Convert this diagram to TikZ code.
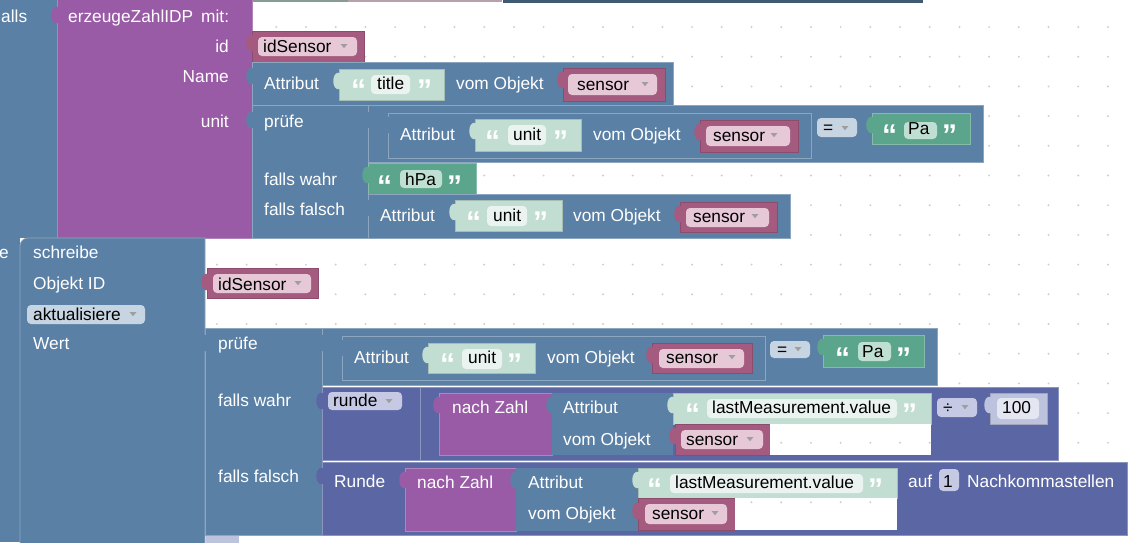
\documentclass[tikz,border=0pt]{standalone}
\usepackage{fontspec}
\setmainfont{Liberation Sans}
\definecolor{logic}{HTML}{5B80A5}
\definecolor{proc}{HTML}{995BA5}
\definecolor{vars}{HTML}{A55B80}
\definecolor{txtg}{HTML}{5BA58C}
\definecolor{txts}{HTML}{C2DED2}
\definecolor{mathc}{HTML}{5B67A5}
\definecolor{nums}{HTML}{BDC2DD}
\definecolor{varpill}{HTML}{E6C8D7}
\definecolor{ddpill}{HTML}{C7D4E2}
\definecolor{mpill}{HTML}{C6C9E4}
\definecolor{spill}{HTML}{EAF3EF}
\definecolor{gpill}{HTML}{BFDFD2}
\definecolor{npill}{HTML}{E4E6F2}
\definecolor{dotc}{HTML}{CFCFCF}
\tikzset{
  lblk/.style={fill=logic, draw=logic!70!white, line width=0.7pt},
  pblk/.style={fill=proc, draw=proc!75!white, line width=0.7pt},
  vblk/.style={fill=vars, draw=vars!85!black, line width=0.7pt},
  gblk/.style={fill=txtg, draw=txtg!75!white, line width=0.7pt},
  sblk/.style={fill=txts, draw=txts!85!black, line width=0.5pt},
  mblk/.style={fill=mathc, draw=mathc!70!white, line width=0.7pt},
  nblk/.style={fill=nums, draw=nums!85!black, line width=0.5pt},
  pill/.style={rounded corners=4pt},
  lab/.style={anchor=base west, inner sep=0pt, text=white},
  rlab/.style={anchor=base east, inner sep=0pt, text=white},
  fld/.style={anchor=base west, inner sep=0pt, text=black},
  quo/.style={anchor=base west, inner sep=0pt, text=white, yshift=-11pt,
              font=\fontsize{30}{30}\selectfont\bfseries},
}
% tab of a value block: x of left edge, y of top, colour
\newcommand{\puzzletab}[3]{\fill[#3] (#1+1,#2+4) .. controls (#1-8,#2+1) and (#1-8,#2+23) .. (#1+1,#2+20) -- cycle;}
\newcommand{\droparrow}[2]{\fill[black!38] (#1-3.5,#2-2) -- (#1+3.5,#2-2) -- (#1,#2+2.2) -- cycle;}
\newcommand{\dotgrid}{\foreach \i in {0,...,38} \foreach \j in {0,...,17}
    \fill[dotc] (9+29.7*\i,27+29.7*\j) circle (1.1pt);}

\begin{document}
\begin{tikzpicture}[x=1pt, y=-1pt, font=\fontsize{17.3}{21}\selectfont]
  \useasboundingbox (0,0) rectangle (1134,542);
  \clip (0,0) rectangle (1134,542);
  \fill[white] (0,0) rectangle (1134,542);
  \dotgrid

  % edges of the blocks above
  \fill[txts!70!black] (252,0) rectangle (348,2);
  \fill[varpill!80!black] (348,0) rectangle (502,2);
  \fill[logic!70!black] (503,0) rectangle (923,2.5);

  % falls / mache
  \fill[logic] (0,0) rectangle (57,238);
  \fill[logic] (0,238) rectangle (20,542);
  \node[lab] (falls) at (1,22) {alls};
  \node[rlab] (mache) at (9,258) {e};

  % erzeugeZahlIDP
  \draw[pblk] (57,-2) rectangle (252,238);
  \puzzletab{57}{3}{proc}
  \node[lab] (callname) at (68,22) {erzeugeZahlIDP};
  \node[lab] (callmit) at (201,22) {mit:};
  \node[rlab] (argid) at (229,52) {id};
  \node[rlab] (argname) at (229,82) {Name};
  \node[rlab] (argunit) at (229,127) {unit};

  \draw[vblk] (252,31) rectangle (364,62);
  \puzzletab{252}{31}{vars}
  \fill[varpill, pill] (258,37) rectangle (357,56);
  \node[fld] (idvar) at (263,52) {idSensor};
  \droparrow{344}{46}

  % Name
  \draw[lblk] (252,62) rectangle (673,105);
  \puzzletab{252}{64}{logic}
  \node[lab] (nattr) at (264,89) {Attribut};
  \draw[sblk] (339,69) rectangle (444,100);
  \puzzletab{339}{69}{txts}
  \node[quo] (nq1) at (351,89) {“};
  \fill[spill, pill] (371,75) rectangle (410,94);
  \node[fld] (ntitle) at (377,89) {title};
  \node[quo] (nq2) at (417,89) {”};
  \node[lab] (nobj) at (456,89) {vom Objekt};
  \draw[vblk] (563,68) rectangle (665,101);
  \puzzletab{563}{68}{vars}
  \fill[varpill, pill] (568,74) rectangle (657,95);
  \node[fld] (nsensor) at (577,90) {sensor};
  \droparrow{645}{84}

  % unit: pruefe
  \draw[lblk] (252,105) rectangle (368,238);
  \puzzletab{252}{108}{logic}
  \node[lab] (upruefe) at (264,127) {prüfe};
  \node[lab] (uwahr) at (264,185) {falls wahr};
  \node[lab] (ufalsch) at (264,215) {falls falsch};

  \draw[lblk] (368,105) rectangle (983,162);
  \puzzletab{368}{108}{logic}
  \draw[lblk] (388,113) rectangle (811,158);
  \puzzletab{388}{113}{logic}
  \node[lab] (cattr) at (400,140) {Attribut};
  \draw[sblk] (475,119) rectangle (581,151);
  \puzzletab{475}{119}{txts}
  \node[quo] (cq1) at (485,140) {“};
  \fill[spill, pill] (508,125) rectangle (546,145);
  \node[fld] (cunit) at (513,140) {unit};
  \node[quo] (cq2) at (553,140) {”};
  \node[lab] (cobj) at (593,140) {vom Objekt};
  \draw[vblk] (700,120) rectangle (798,152);
  \puzzletab{700}{120}{vars}
  \fill[varpill, pill] (706,126) rectangle (790,146);
  \node[fld] (csensor) at (713,141) {sensor};
  \droparrow{774}{135}
  \fill[ddpill, pill] (817,118) rectangle (857,137);
  \node[fld] (ceq) at (823,133) {=};
  \droparrow{845}{128}
  \draw[gblk] (872,113) rectangle (970,144);
  \puzzletab{872}{113}{txtg}
  \node[quo] (pq1) at (882,134) {“};
  \fill[gpill, pill] (904,122) rectangle (937,139);
  \node[fld] (cpa) at (908,134) {Pa};
  \node[quo] (pq2) at (942,134) {”};

  \draw[gblk] (368,163) rectangle (476,194);
  \puzzletab{368}{163}{txtg}
  \node[quo] (hq1) at (377,185) {“};
  \fill[gpill, pill] (400,170) rectangle (442,188);
  \node[fld] (hpa) at (405,185) {hPa};
  \node[quo] (hq2) at (447,185) {”};

  \draw[lblk] (368,194) rectangle (790,238);
  \puzzletab{368}{196}{logic}
  \node[lab] (fattr) at (380,221) {Attribut};
  \draw[sblk] (455,200) rectangle (562,231);
  \puzzletab{455}{200}{txts}
  \node[quo] (fq1) at (466,221) {“};
  \fill[spill, pill] (487,206) rectangle (527,226);
  \node[fld] (funit) at (493,221) {unit};
  \node[quo] (fq2) at (533,221) {”};
  \node[lab] (fobj) at (573,221) {vom Objekt};
  \draw[vblk] (680,202) rectangle (777,232);
  \puzzletab{680}{202}{vars}
  \fill[varpill, pill] (686,208) rectangle (769,227);
  \node[fld] (fsensor) at (693,222) {sensor};
  \droparrow{755}{216}

  % schreibe
  \path[lblk] (20,545) -- (20,246) arc[start angle=180, end angle=90, radius=8pt]
    -- (205,238) -- (205,545) -- cycle;
  \node[lab] (write) at (33,258) {schreibe};
  \node[lab] (objid) at (33,289) {Objekt ID};
  \fill[ddpill, pill] (27,305) rectangle (145,324);
  \node[fld] (update) at (33,320) {aktualisiere};
  \droparrow{133}{314}
  \node[lab] (value) at (33,349) {Wert};

  \draw[vblk] (207,268) rectangle (318,298);
  \puzzletab{207}{270}{vars}
  \fill[varpill, pill] (213,274) rectangle (311,293);
  \node[fld] (idvar2) at (218,290) {idSensor};
  \droparrow{298}{283}

  % Wert: pruefe
  \draw[lblk] (205,328) rectangle (322,535);
  \puzzletab{205}{331}{logic}
  \node[lab] (wpruefe) at (218,349) {prüfe};
  \node[lab] (wwahr) at (218,406) {falls wahr};
  \node[lab] (wfalsch) at (218,482) {falls falsch};

  \draw[lblk] (322,328) rectangle (937,385);
  \puzzletab{322}{331}{logic}
  \draw[lblk] (342,336) rectangle (765,380);
  \puzzletab{342}{336}{logic}
  \node[lab] (dattr) at (354,363) {Attribut};
  \draw[sblk] (428,343) rectangle (535,373);
  \puzzletab{428}{343}{txts}
  \node[quo] (dq1) at (440,363) {“};
  \fill[spill, pill] (462,349) rectangle (502,369);
  \node[fld] (dunit) at (468,363) {unit};
  \node[quo] (dq2) at (507,363) {”};
  \node[lab] (dobj) at (547,363) {vom Objekt};
  \draw[vblk] (652,343) rectangle (752,373);
  \puzzletab{652}{343}{vars}
  \fill[varpill, pill] (659,349) rectangle (744,368);
  \node[fld] (dsensor) at (666,363) {sensor};
  \droparrow{732}{357}
  \fill[ddpill, pill] (770,341) rectangle (810,358);
  \node[fld] (deq) at (777,355) {=};
  \droparrow{798}{349}
  \draw[gblk] (823,335) rectangle (924,367);
  \puzzletab{823}{335}{txtg}
  \node[quo] (eq1) at (835,357) {“};
  \fill[gpill, pill] (858,342) rectangle (891,361);
  \node[fld] (dpa) at (862,357) {Pa};
  \node[quo] (eq2) at (896,357) {”};

  % falls wahr: runde
  \draw[mblk] (322,387) rectangle (1058,460);
  \puzzletab{322}{389}{mathc}
  \fill[mpill, pill] (328,392) rectangle (402,410);
  \node[fld] (round1) at (333,406) {runde};
  \droparrow{389}{401}
  \draw[mblk] (420,387) rectangle (1058,460);
  \draw[pblk] (439,393) rectangle (552,455);
  \puzzletab{439}{393}{proc}
  \node[lab] (tonum1) at (452,413) {nach Zahl};
  \fill[logic] (552,393) rectangle (673,455);
  \puzzletab{552}{393}{logic}
  \node[lab] (rattr) at (563,413) {Attribut};
  \node[lab] (robj) at (563,445) {vom Objekt};
  \draw[sblk] (673,393) rectangle (931,424);
  \puzzletab{673}{393}{txts}
  \node[quo] (rq1) at (685,413) {“};
  \fill[spill, pill] (707,399) rectangle (897,418);
  \node[fld] (rlast) at (712,413) {lastMeasurement.value};
  \node[quo] (rq2) at (902,413) {”};
  \draw[vblk] (675,424) rectangle (770,455);
  \puzzletab{675}{424}{vars}
  \fill[varpill, pill] (681,430) rectangle (763,449);
  \node[fld] (rsensor) at (686,445) {sensor};
  \droparrow{750}{439}
  \fill[white] (770.4,424.4) rectangle (931,455);
  \fill[mpill, pill] (937,398) rectangle (977,417);
  \node[fld] (div) at (943,413) {÷};
  \droparrow{965}{407}
  \draw[nblk] (990,393) rectangle (1047,424);
  \puzzletab{990}{393}{nums}
  \fill[npill, pill] (997,398) rectangle (1039,419);
  \node[fld] (hundred) at (1002,413) {100};

  % falls falsch: Runde ... auf 1 Nachkommastellen
  \draw[mblk] (322,462) rectangle (1127,535);
  \puzzletab{322}{464}{mathc}
  \node[lab] (round2) at (334,487) {Runde};
  \draw[pblk] (405,468) rectangle (516,531);
  \puzzletab{405}{468}{proc}
  \node[lab] (tonum2) at (417,488) {nach Zahl};
  \fill[logic] (516,468) rectangle (638,531);
  \puzzletab{516}{468}{logic}
  \node[lab] (sattr) at (528,488) {Attribut};
  \node[lab] (sobj) at (528,519) {vom Objekt};
  \draw[sblk] (638,468) rectangle (897,498);
  \puzzletab{638}{468}{txts}
  \node[quo] (sq1) at (647,488) {“};
  \fill[spill, pill] (670,474) rectangle (863,493);
  \node[fld] (slast) at (675,488) {lastMeasurement.value};
  \node[quo] (sq2) at (868,488) {”};
  \draw[vblk] (638,498) rectangle (735,530);
  \puzzletab{638}{499}{vars}
  \fill[varpill, pill] (645,504) rectangle (727,524);
  \node[fld] (ssensor) at (652,519) {sensor};
  \droparrow{715}{513}
  \fill[white] (735.4,498.4) rectangle (897,530);
  \node[lab] (auf) at (908,487) {auf};
  \fill[mpill, pill] (939,469) rectangle (959,491);
  \node[fld] (digits) at (943,487) {1};
  \node[lab] (nachk) at (967,487) {Nachkommastellen};

  % empty background seen through the blocks
  \begin{scope}
    \clip (770.4,424.4) rectangle (931,455) (735.4,498.4) rectangle (897,530);
    \dotgrid
  \end{scope}
  \fill[nums] (206,536) rectangle (239,545);
\end{tikzpicture}
\end{document}
